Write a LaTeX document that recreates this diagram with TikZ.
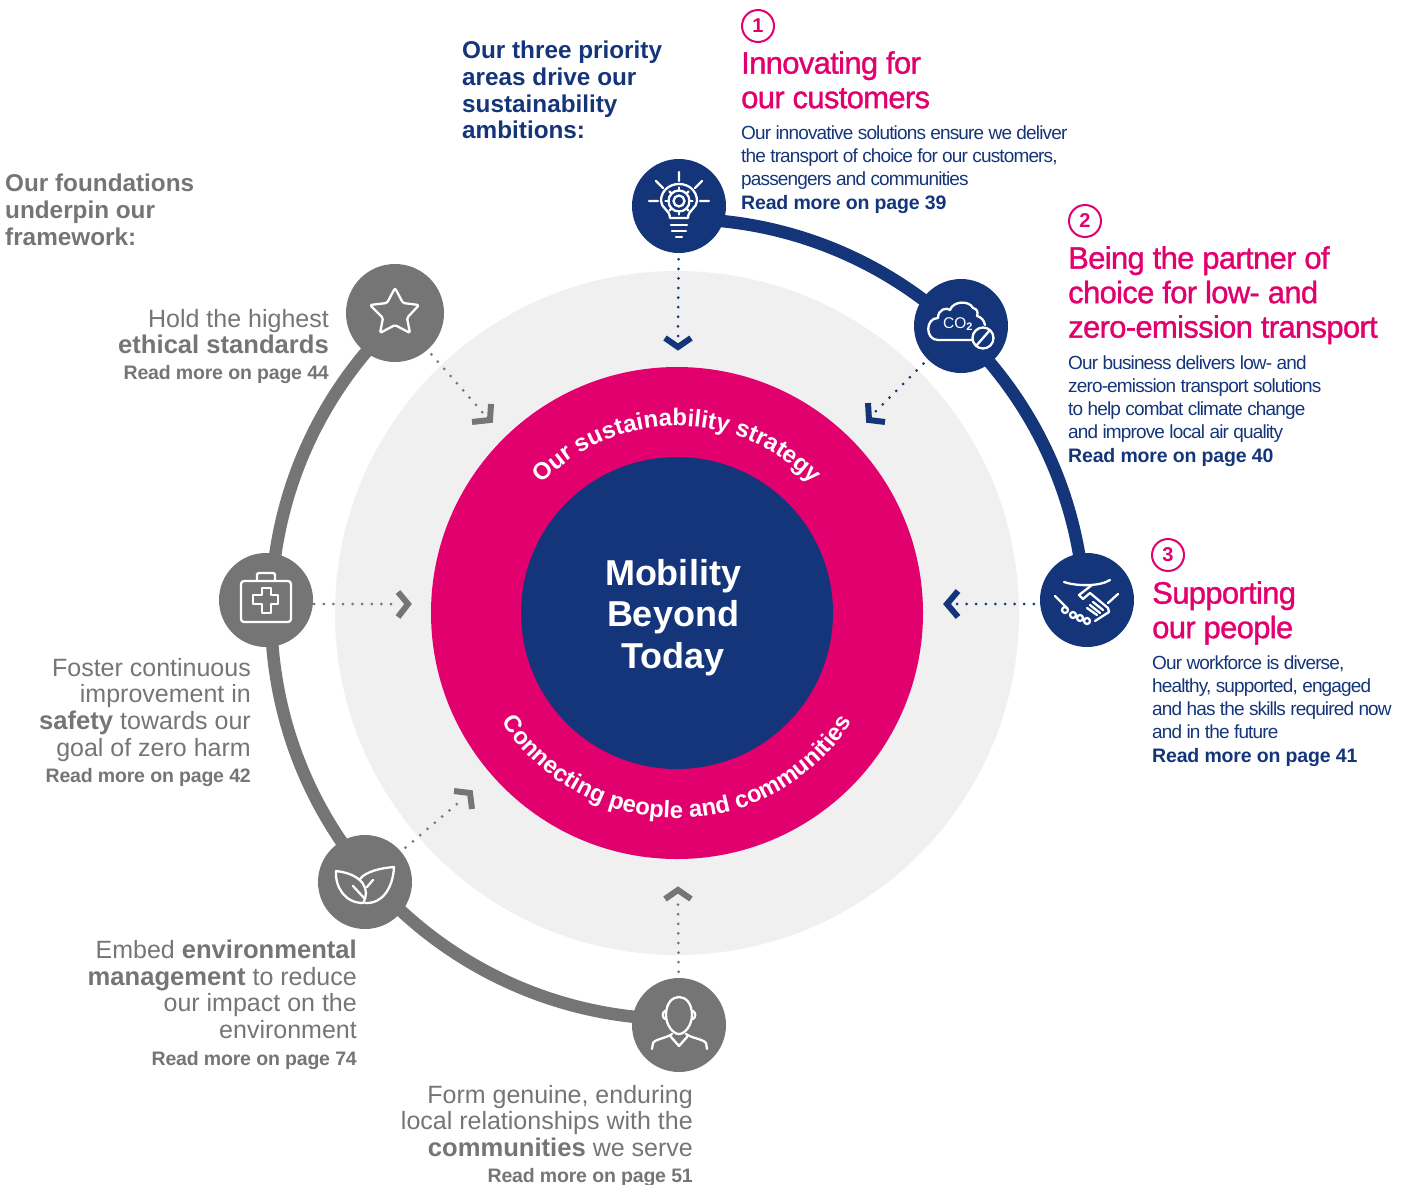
\documentclass[tikz,border=0pt]{standalone}
\usepackage{fontspec}
\setmainfont{Liberation Sans}
\newfontfamily\tightfont[LetterSpace=-4.5]{Liberation Sans}
\newfontfamily\pinkfont[LetterSpace=-2.2,FakeBold=1.1]{Liberation Sans}
\newfontfamily\morefont[LetterSpace=-1,BoldFont={Liberation Sans Bold}]{Liberation Sans}
\usepackage{tikz}
\usetikzlibrary{decorations,decorations.text,positioning}
\definecolor{navy}{HTML}{14357A}
\definecolor{pink}{HTML}{E2006E}
\definecolor{stone}{HTML}{757575}
\definecolor{mist}{HTML}{F0F0F0}
\tikzset{
	disc/.style = {circle, minimum size = 94pt, inner sep = 0pt},
	navydisc/.style = {disc, fill = navy},
	greydisc/.style = {disc, fill = stone},
	headtxt/.style = {anchor = north west, align = left, inner sep = 0pt, text = navy, font = \fontsize{24.3}{26.7}\selectfont\bfseries},
	pinktxt/.style = {anchor = north west, align = left, inner sep = 0pt, text = pink, font = \pinkfont\fontsize{31}{34.5}\selectfont},
	bodytxt/.style = {anchor = north west, align = left, inner sep = 0pt, text = navy, font = \tightfont\fontsize{19}{22.7}\selectfont},
	greytxt/.style = {anchor = north east, align = right, inner sep = 0pt, text = stone, font = \fontsize{25}{26.6}\selectfont},
	numring/.style = {circle, draw = pink, line width = 2pt, minimum size = 32pt, inner sep = 0pt, text = pink, font = \fontsize{20}{20}\selectfont\bfseries},
	dots/.style = {line width = 3pt, line cap = round, dash pattern = on 0pt off 9.6pt, shorten <= 6pt},
	chev/.style = {line width = 6pt, miter limit = 10},
	ico/.style = {white, line width = 2.3pt, line cap = round, line join = round}
}
\newcommand{\more}[1]{{\morefont\fontsize{19.5}{24}\selectfont\bfseries Read more on page #1}}
\newcommand{\hl}[1]{{\fontsize{25.6}{26.6}\selectfont\bfseries #1}}
\begin{document}
\begin{tikzpicture}[x = 1pt, y = -1pt]
	\useasboundingbox (0,0) rectangle (1403,1184);
	% rings
	\fill[mist] (677,613) circle (342);
	\fill[pink] (677,613) circle (246);
	\fill[navy] (677,613) circle (156);
	% arcs
	\draw[navy, line width = 12.5pt] (681,219) arc (-90:-5:404);
	\draw[stone, line width = 12.5pt] (390,326) arc (-135:-270:406);
	% discs
	\node[navydisc] (bulb) at (679,206) {};
	\node[navydisc] (cloud) at (961,326) {};
	\node[navydisc] (hands) at (1087,600) {};
	\node[greydisc, minimum size = 98pt] (star) at (395,313) {};
	\node[greydisc] (kit) at (266,600) {};
	\node[greydisc] (leaf) at (365,882) {};
	\node[greydisc] (person) at (679,1025) {};
	% inner text
	\node[inner sep = 0pt, align = center, text = white, font = \fontsize{36}{41.5}\selectfont\bfseries] (core) at (673,617.5) {Mobility\\Beyond\\Today};
	\path[decorate, decoration = {text along path, text align = center, text = {|\fontsize{24}{24}\selectfont\bfseries\color{white}|Our sustainability strategy}}] (677,613) ++(-160:187) arc (-160:-20:187);
	\path[decorate, decoration = {text along path, text align = center, text = {|\fontsize{23.8}{24}\selectfont\bfseries\color{white}|Connecting people and communities}}] (677,611) ++(160:207) arc (160:20:207);
	% dotted links
	\coordinate (a1) at (678,338);
	\coordinate (a2) at (875,412);
	\coordinate (a3) at (955,604);
	\coordinate (a4) at (484,414);
	\coordinate (a5) at (400,604);
	\coordinate (a6) at (464,798);
	\coordinate (a7) at (678,898);
	\draw[dots, navy] (bulb) -- (a1);
	\draw[dots, navy] (cloud) -- (a2);
	\draw[dots, navy] (hands.west |- a3) -- (a3);
	\draw[dots, stone] (star) -- (a4);
	\draw[dots, stone, shorten <= 1pt] (kit.east |- a5) -- (a5);
	\draw[dots, stone] (leaf) -- (a6);
	\draw[dots, stone] (person) -- (a7);
	% chevrons
	\draw[chev, navy] (665,338) -- (678,347) -- (691,338);
	\draw[chev, navy] (868,403) -- (869,420) -- (885,422);
	\draw[chev, navy] (958,591) -- (947,604) -- (958,617);
	\draw[chev, stone] (472,422) -- (490,420) -- (491,404);
	\draw[chev, stone] (398,592) -- (408,604) -- (398,617);
	\draw[chev, stone] (454,791) -- (470,793) -- (472,809);
	\draw[chev, stone] (665,899) -- (678,890) -- (691,899);
	% texts right
	\node[headtxt] (priority) at (462,41) {Our three priority\\areas drive our\\sustainability\\ambitions:};
	\node[numring] (n1) at (758,26) {1};
	\node[pinktxt] (t1) at (741,51) {Innovating for\\our customers};
	\node[bodytxt] (b1) at (741,126) {Our innovative solutions ensure we deliver\\the transport of choice for our customers,\\passengers and communities\\[1.5pt]\more{39}};
	\node[numring] (n2) at (1085,221) {2};
	\node[pinktxt] (t2) at (1068,246) {Being the partner of\\choice for low- and\\zero-emission transport};
	\node[bodytxt] (b2) at (1068,356) {Our business delivers low- and\\zero-emission transport solutions\\to help combat climate change\\and improve local air quality\\[1.5pt]\more{40}};
	\node[numring] (n3) at (1168,555) {3};
	\node[pinktxt] (t3) at (1152,581) {Supporting\\our people};
	\node[bodytxt] (b3) at (1152,656) {Our workforce is diverse,\\healthy, supported, engaged\\and has the skills required now\\and in the future\\[1.5pt]\more{41}};
	% texts left
	\node[headtxt, text = stone] (found) at (5,174) {Our foundations\\underpin our\\framework:};
	\node[greytxt] (g1) at (329,309) {Hold the highest\\\hl{ethical standards}\\[-0.7pt]\more{44}};
	\node[greytxt] (g2) at (251,658) {Foster continuous\\improvement in\\\hl{safety} towards our\\goal of zero harm\\[-0.7pt]\more{42}};
	\node[greytxt] (g3) at (357,940) {Embed \hl{environmental}\\\hl{management} to reduce\\our impact on the\\environment\\\more{74}};
	\node[greytxt] (g4) at (693,1085) {Form genuine, enduring\\local relationships with the\\\hl{communities} we serve\\[-0.7pt]\more{51}};
	% icons
	\begin{scope}[ico, shift = {(bulb.center)}]
		\draw (-9,12) .. controls (-9,4) and (-18,2) .. (-18,-5) .. controls (-18,-15) and (-10,-22) .. (0,-22) .. controls (10,-22) and (18,-15) .. (18,-5) .. controls (18,2) and (9,4) .. (9,12) -- cycle;
		\draw (-8,19) -- (8,19) (-7,25) -- (7,25) (-3,31) -- (3,31);
		\draw (0,-5) circle (5.5);
		\draw (0,-5) circle (10.5);
		\foreach \a in {0,45,...,315}
			\draw (0,-5) ++(\a:10.5) -- ++(\a:3);
		\draw (0,-34) -- (0,-25) (-23,-25) -- (-16,-18) (23,-25) -- (16,-18) (-30,-5) -- (-21,-5) (30,-5) -- (21,-5);
	\end{scope}
	\begin{scope}[ico, shift = {(cloud.center)}]
		\draw (11,14) -- (-23,14) .. controls (-36,14) and (-36,-8) .. (-23,-8) .. controls (-23,-17) and (-14,-19) .. (-11,-16) .. controls (-8,-25) and (8,-26) .. (12,-18) .. controls (17,-17) and (17,-13) .. (16,-10) .. controls (20,-9) and (23,-6) .. (24,-1);
		\node[text = white, inner sep = 0pt, font = \fontsize{15.5}{15.5}\selectfont] (co) at (-3,-2) {CO\textsubscript{\textbf{2}}};
		\draw (22,12) circle (10.5) (15,20) -- (29,4);
	\end{scope}
	\begin{scope}[ico, shift = {(hands.center)}]
		\draw (-23,-18) .. controls (-12,-14) and (12,-13) .. (23,-20);
		\draw (5,-15) -- (-8,-5) -- (-4,-1) -- (3,-7) -- (21,8) -- (22,12) -- (8,21);
		\draw (31,-6) -- (21,3);
		\draw (-32,-4) -- (-20,8);
		\draw (0,8) -- (10,15) (3,5) -- (13,13) (6,2) -- (16,10);
		\draw (-22,10) circle (3) (-14,15) circle (3) (-7,18) circle (3) (0,21) circle (3);
	\end{scope}
	\begin{scope}[ico, rounded corners = 1.5pt, shift = {(star.center)}]
		\draw (0,-25) -- (8,-10) -- (24,-8) -- (12,5) -- (15,20) -- (0,12) -- (-15,20) -- (-12,5) -- (-25,-8) -- (-8,-10) -- cycle;
	\end{scope}
	\begin{scope}[ico, shift = {(kit.center)}]
		\draw[rounded corners = 3pt] (-25,-19) rectangle (25,22);
		\draw[rounded corners = 2pt] (-9,-19) -- (-9,-27) -- (9,-27) -- (9,-19);
		\draw (-4,-12) -- (5,-12) -- (5,-5) -- (12,-5) -- (12,4) -- (5,4) -- (5,13) -- (-4,13) -- (-4,4) -- (-13,4) -- (-13,-5) -- (-4,-5) -- cycle;
	\end{scope}
	\begin{scope}[ico, shift = {(leaf.center)}]
		\draw (-29,-11) .. controls (-30,5) and (-20,21) .. (-2,21) .. controls (6,8) and (-2,-8) .. (-29,-11) -- cycle;
		\draw (0,21) .. controls (18,22) and (28,5) .. (29,-15) .. controls (15,-14) and (0,-10) .. (-5,-3);
		\draw (-12,4) -- (0,17) (8,-2) -- (2,5);
	\end{scope}
	\begin{scope}[ico, shift = {(person.center)}]
		\draw (-13,-10) .. controls (-13,-34) and (13,-34) .. (13,-10) .. controls (13,0) and (6,9) .. (0,9) .. controls (-6,9) and (-13,0) .. (-13,-10);
		\draw (-14,-14) .. controls (-17,-12) and (-17,-8) .. (-14,-6) (14,-14) .. controls (17,-12) and (17,-8) .. (14,-6);
		\draw (-27,24) -- (-26,18) .. controls (-24,14) and (-12,13) .. (-7,9) (28,24) -- (27,18) .. controls (24,14) and (12,13) .. (7,9);
		\draw (-8,12) -- (0,21) -- (8,12);
	\end{scope}
\end{tikzpicture}
\end{document}
